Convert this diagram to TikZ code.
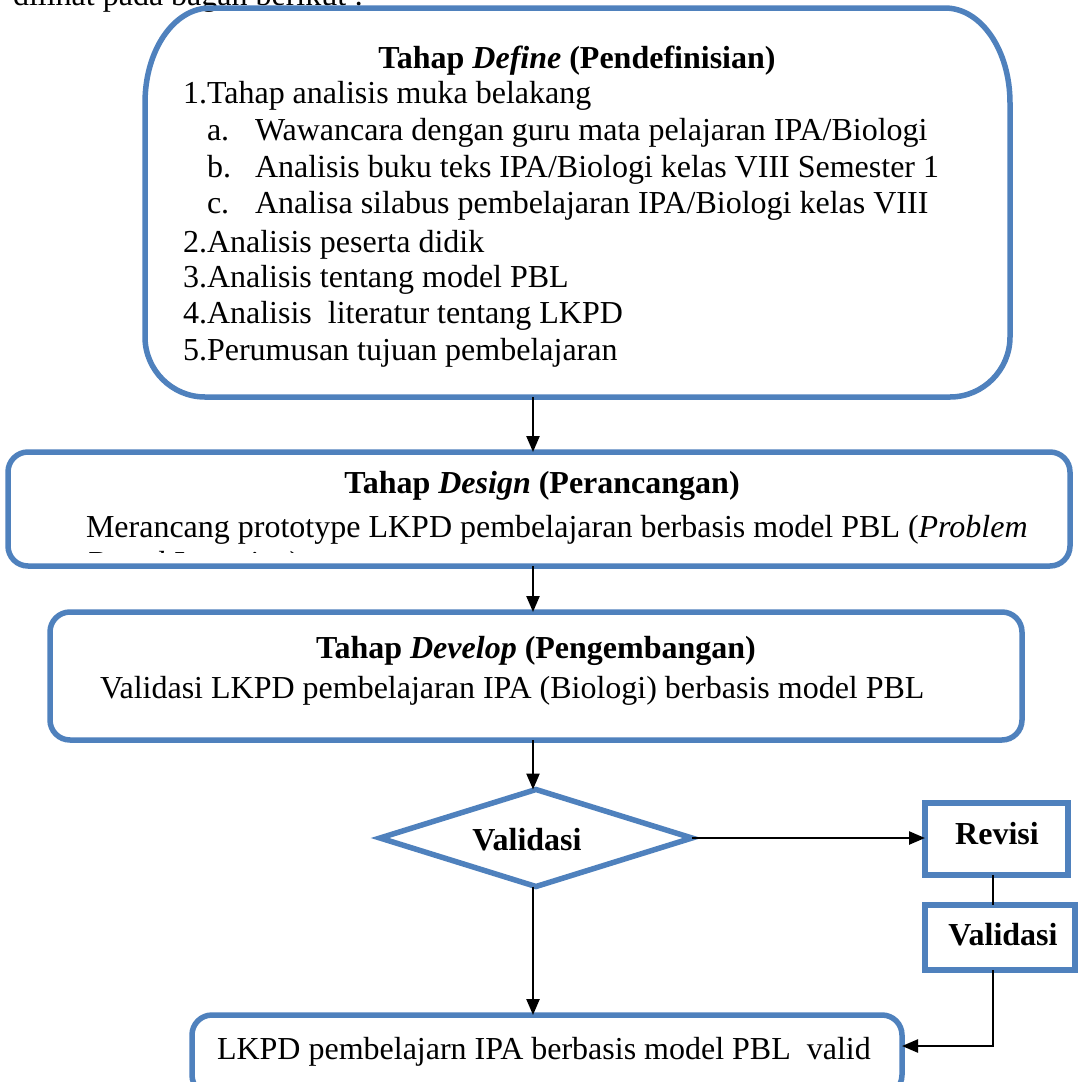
\documentclass[tikz,border=0pt]{standalone}
\usepackage{fontspec}
\setmainfont{Liberation Serif}
\usetikzlibrary{arrows.meta,shapes.geometric}
\definecolor{boxblue}{HTML}{4F81BD}
\tikzset{
  boxline/.style={draw=boxblue, line width=5.5pt},
  box/.style={boxline, inner sep=0pt, outer sep=0pt, fill=white},
  rbox/.style={box, rounded corners=20pt},
  txt/.style={inner sep=0pt, outer sep=0pt, anchor=base west, font=\fontsize{32}{36}\selectfont},
  ctxt/.style={txt, anchor=base},
  arr/.style={line width=2.4pt, -{Triangle[length=16pt,width=13pt]}},
  ln/.style={line width=2.4pt}
}
\begin{document}
\begin{tikzpicture}[x=1pt,y=-1pt]
\useasboundingbox (0,0) rectangle (1079,1082);
\clip (0,0) rectangle (1079,1082);
\fill[white] (0,0) rectangle (1079,1082);

% clipped lead-in text
\node[txt] (lead) at (13,5) {dilihat pada bagan berikut :};

% Define box (frame with taller top corners)
\node[inner sep=0pt, outer sep=0pt, minimum width=865pt, minimum height=389pt] (def) at (577.5,202.5) {};
\draw[boxline, line join=round]
  (145,103) .. controls (145,50) and (174,8) .. (210,8)
  -- (945,8) .. controls (981,8) and (1010,50) .. (1010,103)
  -- (1010,337) .. controls (1010,370) and (983,397) .. (950,397)
  -- (205,397) .. controls (172,397) and (145,370) .. (145,337)
  -- cycle;
\node[ctxt] (deft) at (577,68) {\textbf{Tahap \textit{Define} (Pendefinisian)}};
\node[txt] (d1) at (183,103) {1.Tahap analisis muka belakang};
\node[txt] (da) at (207,140) {a.};
\node[txt] (dat) at (255,140) {Wawancara dengan guru mata pelajaran IPA/Biologi};
\node[txt] (db) at (207,177) {b.};
\node[txt] (dbt) at (255,177) {Analisis buku teks IPA/Biologi kelas VIII Semester 1};
\node[txt] (dc) at (207,213) {c.};
\node[txt] (dct) at (255,213) {Analisa silabus pembelajaran IPA/Biologi kelas VIII};
\node[txt] (d2) at (183,252) {2.Analisis peserta didik};
\node[txt] (d3) at (183,287) {3.Analisis tentang model PBL};
\node[txt] (d4) at (183,323) {4.Analisis\ \ literatur tentang LKPD};
\node[txt] (d5) at (183,360) {5.Perumusan tujuan pembelajaran};

% Design box
\node[rbox, minimum width=1062pt, minimum height=114pt] (des) at (539,509) {};
\node[ctxt] (dest) at (542,493) {\textbf{Tahap \textit{Design} (Perancangan)}};
\node[txt] (desb) at (86,537) {Merancang prototype LKPD pembelajaran berbasis model PBL (\textit{Problem}};
\begin{scope}
\clip (60,540) rectangle (1060,552);
\node[txt] (desc) at (86,573) {\textit{Based Learning})};
\end{scope}

% Develop box
\node[rbox, minimum width=972pt, minimum height=128pt] (dev) at (536,676) {};
\node[ctxt] (devt) at (536,658) {\textbf{Tahap \textit{Develop} (Pengembangan)}};
\node[txt] (devb) at (100,698) {Validasi LKPD pembelajaran IPA (Biologi) berbasis model PBL};

% Decision
\node[box, diamond, minimum width=312pt, minimum height=97pt] (dia) at (536,838) {};
\node[ctxt] (diat) at (527,850) {\textbf{Validasi}};

% Revisi and Validasi boxes
\node[box, minimum width=143pt, minimum height=72pt] (rev) at (996.5,839) {};
\node[ctxt] (revt) at (997,844) {\textbf{Revisi}};
\node[box, minimum width=150pt, minimum height=65pt] (val) at (1000,937.5) {};
\node[ctxt] (valt) at (1003,945) {\textbf{Validasi}};

% Result box
\node[rbox, minimum width=710pt, minimum height=80pt] (res) at (547,1055) {};
\node[txt] (rest) at (217,1059) {LKPD pembelajarn IPA berbasis model PBL\ \ valid};

% helper coordinates
\coordinate (cx) at (533,0);
\coordinate (vx) at (993,0);
\coordinate (fy) at (0,1046);

% connectors
\draw[arr] (def.south -| cx) -- (des.north -| cx);
\draw[arr] (des.south -| cx) -- (dev.north -| cx);
\draw[arr] (dev.south -| cx) -- (dia.north -| cx);
\draw[arr] (dia.south -| cx) -- (res.north -| cx);
\draw[arr] (dia.east) -- (rev.west |- dia.east);
\draw[ln] (rev.south -| vx) -- (val.north -| vx);
\draw[arr] (val.south -| vx) -- (vx |- fy) -- (res.east |- fy);
\end{tikzpicture}
\end{document}
